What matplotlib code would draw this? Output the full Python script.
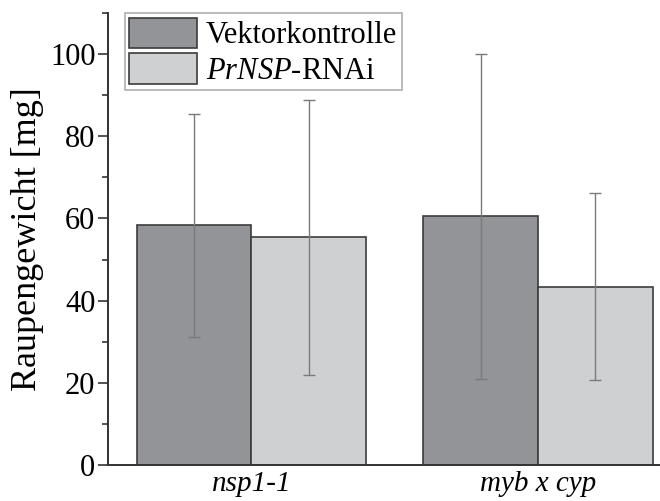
import matplotlib
matplotlib.use("Agg")
import matplotlib.pyplot as plt
import numpy as np

plt.rcParams['font.family'] = ['Liberation Serif', 'DejaVu Serif']
plt.rcParams['mathtext.fontset'] = 'custom'
plt.rcParams['mathtext.rm'] = 'Liberation Serif'
plt.rcParams['mathtext.it'] = 'Liberation Serif:italic'

groups = ['nsp1-1', 'myb x cyp']
series = ['Vektorkontrolle', r'$\it{PrNSP}$-RNAi']
means_vektor = [58.3, 60.5]
means_rnai = [55.4, 43.4]
sd_vektor = [27.2, 39.5]
sd_rnai = [33.4, 22.7]

colors = ['#939497', '#cfd0d2']

fig = plt.figure(figsize=(6.6, 5.01), dpi=100)
ax = fig.add_axes([0.1636, 0.0719, 0.85, 0.902])

x = np.arange(len(groups))
w = 0.4
err_kw = dict(ecolor='#7a7a7a', elinewidth=1.0, capsize=4, capthick=1.0)
ax.bar(x - w / 2, means_vektor, w, yerr=sd_vektor, color=colors[0],
       edgecolor='#3c3c3c', linewidth=1.2, label=series[0], error_kw=err_kw)
ax.bar(x + w / 2, means_rnai, w, yerr=sd_rnai, color=colors[1],
       edgecolor='#3c3c3c', linewidth=1.2, label=series[1], error_kw=err_kw)

ax.set_xlim(-0.5, 1.457)
ax.set_ylim(0, 109.7)
ax.set_xticks(x)
ax.set_xticklabels(groups, fontstyle='italic', fontsize=21)
ax.tick_params(axis='x', length=0, pad=4)
ax.set_yticks([0, 20, 40, 60, 80, 100])
ax.set_yticks([10, 30, 50, 70, 90, 110], minor=True)
ax.tick_params(axis='y', which='major', length=7, width=1.2, labelsize=22, pad=2, color='#333333')
ax.tick_params(axis='y', which='minor', length=4, width=1.2, color='#333333')
ax.set_ylabel('Raupengewicht [mg]', fontsize=26, labelpad=4)

for s in ['top', 'right']:
    ax.spines[s].set_visible(False)
for s in ['left', 'bottom']:
    ax.spines[s].set_linewidth(1.4)
    ax.spines[s].set_color('#333333')

leg = ax.legend(loc='upper left', bbox_to_anchor=(0.03, 1.0), fontsize=22,
                frameon=True, fancybox=False, edgecolor='#9a9a9a',
                handlelength=2.2, handleheight=1.15, labelspacing=0.1,
                borderpad=0.15, handletextpad=0.3, borderaxespad=0.0)
leg.get_frame().set_linewidth(1.2)

fig.savefig('out.png', dpi=100)
